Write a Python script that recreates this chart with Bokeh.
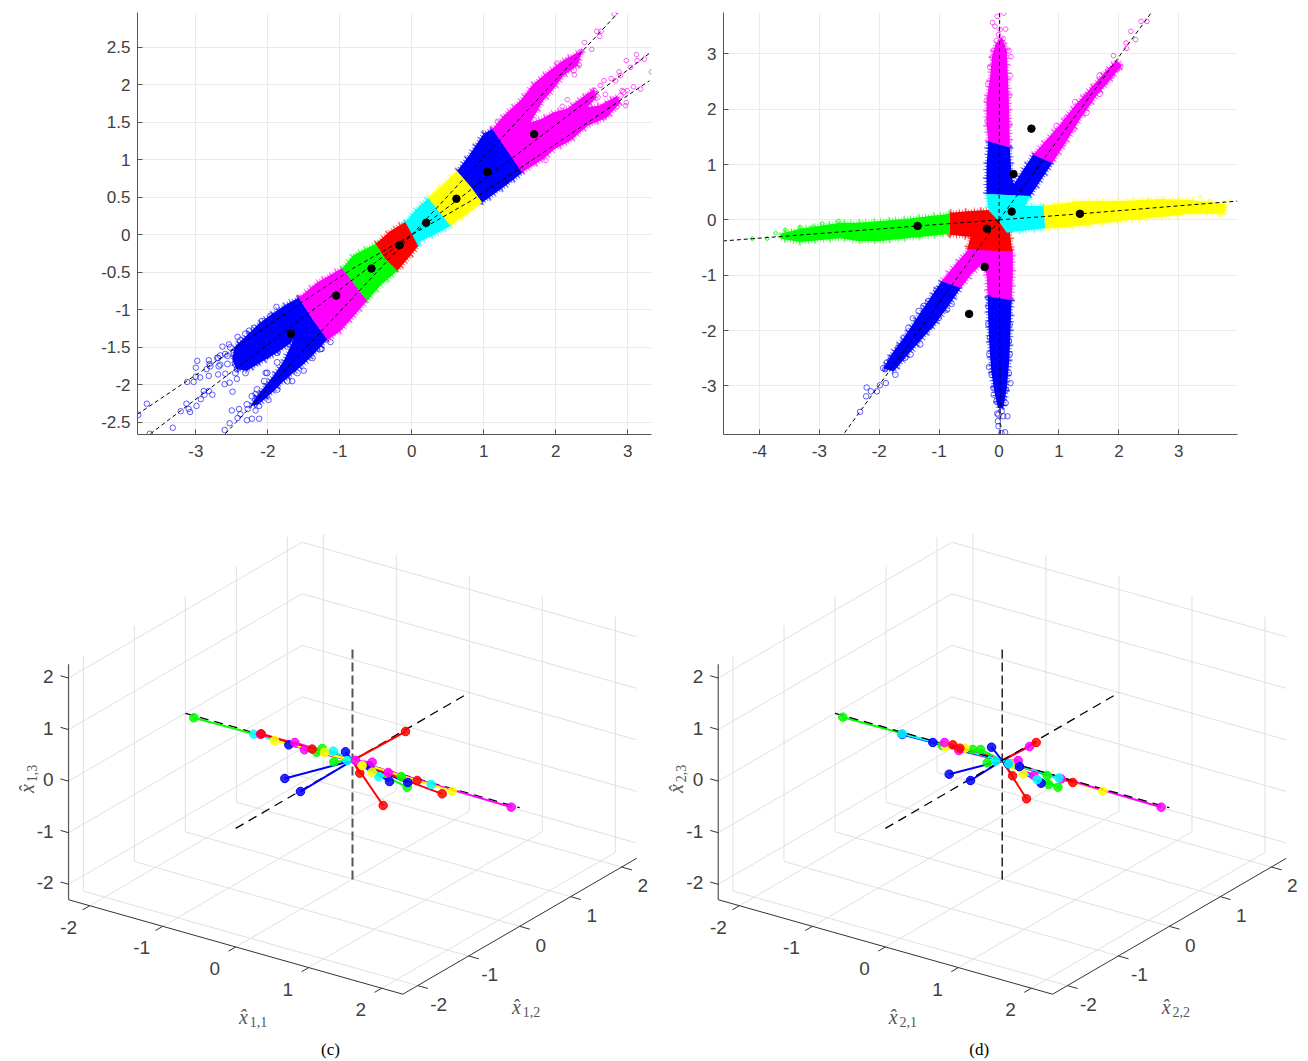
from bokeh.plotting import figure
from bokeh.layouts import column, row
from bokeh.models import FixedTicker, Label
from bokeh.core.properties import value
from bokeh.embed import file_html
from bokeh.resources import INLINE

BLUE, MAG, GREEN, RED, CYAN, YEL = "#0000ff", "#ff00ff", "#00ff00", "#ff0000", "#00ffff", "#ffff00"

# ---------- panel (a): outlines of the dense clouds, y_{1,1} / y_{1,2}
a_red = [(-.50,-.12),(-.30,.05),(-.09,.17),(.01,.03),(.09,-.15),(-.02,-.28),(-.20,-.48),(-.37,-.32)]
a_cyan = [(-.09,.17),(.07,.35),(.23,.49),(.38,.31),(.54,.12),(.33,.01),(.12,-.09),(.09,-.15)]
a_yellow = [(.23,.49),(.41,.65),(.63,.85),(.82,.64),(.98,.43),(.77,.28),(.54,.12),(.38,.31)]
a_blue_up = [(.63,.85),(.79,1.05),(1.0,1.35),(1.12,1.41),(1.33,1.12),(1.54,.83),(1.27,.63),(.98,.43),(.82,.64)]
a_mag_up = [(1.12,1.41),(1.28,1.59),(1.51,1.79),(1.69,2.01),(1.88,2.16),(2.07,2.30),(2.27,2.41),(2.37,2.45),
            (2.30,2.25),(2.11,2.12),(1.97,1.94),(1.83,1.79),(1.72,1.61),(1.65,1.50),(1.79,1.54),(1.97,1.63),
            (2.16,1.68),(2.34,1.81),(2.53,1.94),(2.57,1.83),(2.44,1.70),(2.62,1.72),(2.85,1.85),(2.90,1.76),
            (2.71,1.56),(2.44,1.45),(2.20,1.25),(1.98,1.14),(1.83,1.01),(1.53,.83)]
a_green = [(-.97,-.45),(-.81,-.27),(-.50,-.12),(-.37,-.32),(-.20,-.48),(-.44,-.68),(-.62,-.88),(-.78,-.68)]
a_mag_lo = [(-1.57,-.84),(-1.32,-.64),(-.96,-.44),(-.78,-.68),(-.62,-.88),(-.81,-1.09),(-.99,-1.28),(-1.17,-1.40),(-1.38,-1.12)]
a_blue_lo = [(-1.57,-.84),(-1.73,-.92),(-1.92,-1.04),(-2.13,-1.19),(-2.33,-1.37),(-2.47,-1.50),(-2.49,-1.68),
             (-2.43,-1.79),(-2.29,-1.81),(-2.10,-1.70),(-1.87,-1.57),(-1.68,-1.44),(-1.64,-1.39),(-1.78,-1.68),
             (-1.91,-1.86),(-2.06,-2.04),(-2.17,-2.17),(-2.24,-2.28),(-2.13,-2.26),(-1.96,-2.12),(-1.78,-1.95),
             (-1.50,-1.72),(-1.36,-1.59),(-1.17,-1.39),(-1.36,-1.15)]
# isolated samples of panel (a)
a_blue_pts = [(-3.80,-2.40),(-3.68,-2.25),(-3.64,-2.65),(-3.32,-2.57),(-3.21,-2.35),(-3.13,-2.25),(-3.10,-2.32),
              (-3.08,-2.36),(-2.99,-2.28),(-3.00,-1.77),(-2.98,-1.68),(-3.12,-1.96),(-3.03,-1.96),(-3.00,-1.89),
              (-2.94,-1.90),(-2.93,-2.19),(-2.89,-2.08),(-2.88,-2.13),(-2.82,-2.08),(-2.77,-2.13),(-2.82,-1.88),
              (-2.85,-1.79),(-2.82,-1.67),(-2.81,-1.72),(-2.69,-1.86),(-2.69,-1.64),(-2.66,-1.73),(-2.59,-1.85),
              (-2.60,-1.99),(-2.53,-1.97),(-2.49,-2.09),(-2.63,-1.49),(-2.54,-1.46),(-2.43,-1.92),(-2.43,-1.79),
              (-2.42,-1.36),(-2.50,-2.34),(-2.40,-2.32),(-2.38,-2.39),(-2.42,-2.44),(-2.53,-2.51),(-2.60,-2.60),
              (-2.29,-2.47),(-2.22,-2.45),(-2.12,-2.45),(-2.28,-2.32),(-2.17,-2.34),(-2.12,-2.28),(-2.17,-2.12),
              (-1.99,-2.20),(-1.66,-1.95),(-2.03,-1.84),(-1.50,-1.81),(-1.25,-1.52),(-1.13,-1.43),(-1.88,-.96)]
a_blue_fringe = [(-2.70,-1.64),(-2.59,-1.59),(-2.52,-1.50),(-2.47,-1.57),(-2.38,-1.41),(-2.31,-1.32),(-2.26,-1.28),
                 (-2.19,-1.24),(-2.08,-1.15),(-1.96,-1.08),(-2.45,-1.84),(-2.31,-1.84),(-2.15,-1.70),(-2.01,-1.61),
                 (-1.87,-1.57),(-2.29,-2.26),(-2.22,-2.15),(-2.15,-2.06),(-2.05,-1.95),(-2.01,-1.84),(-1.87,-1.70),
                 (-1.87,-2.06),(-1.73,-1.95),(-1.59,-1.84),(-1.38,-1.64),(-1.27,-1.52),(-2.56,-1.61),(-2.45,-1.64),
                 (-2.33,-1.64),(-2.29,-1.50),(-2.66,-1.61),(-2.80,-1.75),(-2.68,-1.75),(-2.56,-1.72),(-2.45,-1.72),
                 (-2.38,-1.70),(-2.17,-2.19),(-2.08,-2.12),(-1.99,-2.04)]
a_mag_pts = [(2.81,2.94),(2.57,2.71),(2.63,2.71),(2.61,2.64),(2.40,2.56),(2.50,2.47),(2.30,2.39),(2.33,2.26),
             (2.26,2.13),(2.16,1.80),(2.09,1.71),(3.12,2.40),(3.23,2.34),(3.13,2.32),(2.98,2.32),(3.33,2.17),
             (3.04,2.23),(2.88,2.17),(2.90,2.12),(2.67,2.05),(2.77,2.08),(2.83,2.05),(2.62,1.99),(2.92,1.92),
             (2.99,1.92),(3.18,1.94),(3.08,1.97),(2.69,1.87),(2.98,1.76),(2.97,1.72),(2.85,1.70),(2.76,1.68),
             (2.67,1.56),(1.86,.99),(1.19,1.51),(1.75,2.0)]
a_mag_fringe = [(2.20,2.25),(2.30,2.34),(2.34,2.43),(2.16,2.32),(2.25,2.19),(2.02,2.28),(2.53,1.92),(2.46,1.85),
                (2.39,1.79),(2.58,1.83),(2.64,1.70),(2.71,1.74),(2.83,1.79),(2.90,1.85),(2.94,1.90),(2.71,1.61),
                (2.62,1.61),(2.44,1.83),(2.30,1.74),(2.18,1.63)]
a_curves = [[(-2.59,-2.65),(0,0),(2.86,2.95)],
            [(-3.63,-2.65),(0,0),(3.32,2.43)],
            [(-3.81,-2.39),(-2.91,-1.81),(-1.51,-.89),(-.82,-.45),(0,0),(.82,.45),(1.51,.89),(3.30,2.05)]]
a_centres = [(1.70,1.34),(1.05,.84),(.62,.48),(.20,.16),(-1.05,-.81),(-.56,-.45),(-.17,-.14),(-1.68,-1.32)]
a_xticks = [-3,-2,-1,0,1,2,3]
a_yticks = [-2.5,-2,-1.5,-1,-.5,0,.5,1,1.5,2,2.5]

# ---------- panel (b): outlines of the dense clouds, y_{2,1} / y_{2,2}
b_mag_v = [(-.18,1.42),(-.21,1.73),(-.21,2.16),(-.15,2.58),(-.12,2.94),(-.06,3.18),(.05,3.30),(.13,3.06),(.14,2.76),(.16,2.28),(.17,1.85),(.18,1.31)]
b_blue_v = [(-.21,.47),(-.21,.95),(-.18,1.42),(.18,1.31),(.21,.77),(.25,.65),(.41,.92),(.57,1.18),(.89,1.03),(.71,.74),(.52,.43)]
b_mag_d = [(.57,1.18),(.80,1.46),(1.02,1.73),(1.29,2.10),(1.57,2.43),(1.79,2.70),(1.96,2.88),(2.05,2.79),(1.82,2.49),(1.63,2.25),(1.35,1.82),(1.13,1.43),(.89,1.03)]
b_cyan = [(-.21,.47),(.52,.43),(.44,.25),(.74,.25),(.77,-.15),(.13,-.23),(-.01,-.02),(-.18,.19)]
b_yellow = [(.73,.25),(1.35,.34),(2.02,.34),(2.68,.38),(3.18,.36),(3.77,.29),(3.77,.11),(3.18,.11),(2.68,.05),(2.02,-.02),(1.35,-.11),(.77,-.16)]
b_red = [(-.82,.13),(-.48,.16),(-.18,.18),(0,-.02),(.18,-.22),(.22,-.56),(0,-.56),(-.53,-.53),(-.48,-.31),(-.82,-.27)]
b_green = [(-.82,.11),(-1.15,.07),(-1.53,.02),(-1.98,-.02),(-2.37,-.05),(-2.65,-.05),(-3.32,-.16),(-3.65,-.25),
           (-3.65,-.34),(-3.32,-.40),(-2.65,-.33),(-2.37,-.38),(-1.98,-.38),(-1.53,-.33),(-1.15,-.29),(-.82,-.25)]
b_mag_lo = [(-.51,-.53),(-.73,-.80),(-.96,-1.11),(-.64,-1.23),(-.46,-.98),(-.29,-.80),(-.21,-.98),(-.19,-1.38),(.21,-1.45),(.23,-.98),(.23,-.55)]
b_blue_d = [(-.96,-1.11),(-1.15,-1.41),(-1.37,-1.77),(-1.59,-2.13),(-1.76,-2.37),(-1.93,-2.68),(-1.76,-2.74),(-1.54,-2.46),(-1.32,-2.19),(-1.07,-1.89),(-.85,-1.56),(-.64,-1.23)]
b_blue_lo = [(-.19,-1.38),(-.18,-1.83),(-.16,-2.31),(-.13,-2.74),(-.08,-3.10),(-.02,-3.40),(.07,-3.40),(.13,-3.04),(.17,-2.55),(.19,-2.01),(.21,-1.45)]
# isolated samples of panel (b)
b_blue_pts = [(-2.32,-3.47),(-2.21,-3.03),(-2.22,-3.19),(-2.14,-3.10),(-2.04,-3.10),(-1.99,-2.99),(-1.89,-2.95),
              (-1.73,-2.80),(-1.90,-2.70),(-1.82,-2.55),(-1.44,-1.78),(-.79,-1.52),(-.18,-1.41),(-.18,-1.56),
              (-.18,-1.88),(.18,-1.89),(-.17,-2.66),(.18,-2.43),(.19,-2.95),(.11,-3.31),(.14,-3.55),(-.03,-3.50),
              (-.02,-3.64),(-.01,-3.73),(.04,-3.85),(.10,-3.84),(-.09,-3.16),(.07,-3.55)]
b_blue_fringe = [(-1.93,-2.68),(-1.87,-2.58),(-1.79,-2.49),(-1.68,-2.31),(-1.59,-2.13),(-1.51,-1.95),(-1.34,-1.65),
                 (-1.26,-1.56),(-1.18,-1.47),(-1.04,-1.26),(-1.73,-2.58),(-1.57,-2.49),(-1.48,-2.43),(-1.32,-2.25),
                 (-1.15,-1.92),(-1.01,-1.77),(-.87,-1.62),(-.15,-2.13),(-.16,-2.43),(-.12,-2.80),(-.09,-3.04),
                 (.16,-2.19),(.16,-2.77),(.11,-3.07),(.07,-3.22),(-.04,-3.28),(.02,-3.28),(.04,-3.46),(-.01,-3.52)]
b_mag_pts = [(.08,3.74),(-.03,3.68),(-.11,3.57),(-.07,3.50),(.02,3.44),(.11,3.45),(-.01,3.35),(.07,3.28),(.20,2.95),
             (-.12,2.94),(2.47,3.59),(2.37,3.59),(2.20,3.41),(2.28,3.26),(2.12,3.20),(2.13,3.10),(1.91,2.97),
             (2.03,2.78),(1.97,2.72),(1.89,2.60),(1.88,2.73),(1.78,2.52)]
b_mag_fringe = [(-.09,3.06),(-.15,2.76),(-.18,2.46),(-.20,2.16),(-.19,1.79),(.16,3.06),(.18,2.61),(.17,2.25),(.17,1.73),
                (.02,3.21),(-.04,3.24),(.07,3.18),(1.68,2.61),(1.77,2.49),(1.82,2.70),(1.57,2.37),(1.46,2.25),(1.27,2.13),
                (1.13,1.85),(.96,1.70),(.88,1.43),(1.07,1.37),(1.24,1.64),(1.46,1.94),(1.68,2.28),(1.96,2.79),(1.85,2.61)]
b_green_pts = [(-4.12,-.34),(-3.87,-.34),(-3.73,-.24),(-3.57,-.18),(-3.32,-.13),(-3.12,-.13),(-2.95,-.07),(-2.68,-.02)]
b_yellow_pts = [(3.85,.34),(3.77,.22),(3.52,.34),(3.35,.42),(3.68,.07)]
b_curves = [[(0,0),(.01,3.75)],
            [(0,0),(2.53,3.73)],
            [(0,0),(1.35,.11),(3.98,.34)],
            [(0,0),(-1.36,-.11),(-4.6,-.38)],
            [(0,0),(-2.6,-3.88)],
            [(0,0),(.02,-3.88)]]
b_centres = [(.54,1.65),(.24,.83),(.21,.15),(1.35,.11),(-1.36,-.11),(-.20,-.16),(-.24,-.85),(-.50,-1.70)]
b_xticks = [-4,-3,-2,-1,0,1,2,3]
b_yticks = [-3,-2,-1,0,1,2,3]

# ---------- panels (c), (d): estimated 3-D points, each joined to the origin
c_green = [(-2.174,0,-.042),(-.256,0,-.128),(-.415,0,.066),(-.493,0,-.036),(.667,0,-.044),(.749,0,-.218)]
c_blue = [(-.872,0,-.045),(-.096,0,.13),(-.927,0,-.72),(0,-1.02,-.015),(.507,0,-.204),(.758,0,-.123),(.237,0,-.021)]
c_cyan = [(-1.352,0,-.03),(-.265,0,.075),(.361,0,-.166),(1.078,0,-.034),(-.07,0,-.03)]
c_magenta = [(-1.26,0,.006),(-.79,0,.033),(-.658,0,-.056),(.269,0,.075),(.489,0,-.037),(2.174,0,-.035),(.04,0,.02)]
c_red = [(-1.251,0,.017),(-.553,0,0),(0,1.04,-.036),(.10,0,-.206),(.42,0,-.705),(.886,0,-.033),(1.228,0,-.155)]
c_yellow = [(-1.068,0,-.04),(-.384,0,.002),(.269,0,-.118),(1.365,0,-.049),(.132,0,-.044)]

d_green = [(-2.183,0,-.033),(-.822,0,-.038),(-.402,0,.053),(-.297,0,.095),(-.205,0,-.127),(.616,0,-.044),(.639,0,-.21),(.763,0,-.212)]
d_blue = [(-1.37,0,-.044),(-.95,0,-.031),(-.146,0,.2),(-.726,0,-.556),(0,-.621,-.031),(.082,0,-.032),(.237,0,-.021),(.534,0,-.226)]
d_cyan = [(-1.37,0,-.031),(-.09,0,-.05),(.091,0,-.028),(.479,0,-.177),(.776,0,-.026)]
d_magenta = [(-.79,0,.033),(-.594,0,-.044),(0,.536,-.037),(.219,0,.088),(.808,0,-.032),(2.178,0,-.034),(.434,0,-.117)]
d_red = [(-.676,0,.033),(-.58,0,.007),(0,.667,-.034),(.142,0,-.241),(.333,0,-.61),(.968,0,-.039)]
d_yellow = [(-.776,0,-.039),(-.511,0,.035),(.288,0,-.143),(1.379,0,-.043),(.137,0,-.023)]
ticks3d = [-2,-1,0,1,2]

SANS, SERIF = "Liberation Sans", "Liberation Serif"
TXT = "#404040"
GRID = "#ebebeb"
GRID3 = "#e0e0e0"


def xy(pts):
    return [q[0] for q in pts], [q[1] for q in pts]


def label(p, x, y, text, size, font=SERIF, style="normal", color=TXT, angle=0, align="center"):
    p.add_layout(Label(x=x, y=y, text=text, text_font=font, text_font_size=f"{size}px", text_font_style=style,
                       text_color=color, angle=angle, angle_units="deg", text_align=align, text_baseline="middle"))


def panel2d(width, left, right, xr, yr, xticks, yticks, yfmt):
    p = figure(width=width, height=530, frame_width=514, frame_height=422, x_range=xr, y_range=yr,
               output_backend="svg", toolbar_location=None, min_border_left=left, min_border_right=right,
               min_border_top=12, min_border_bottom=96)
    p.outline_line_color = None
    p.xaxis.ticker = FixedTicker(ticks=xticks)
    p.yaxis.ticker = FixedTicker(ticks=yticks)
    p.xaxis.major_label_overrides = {t: str(t) for t in xticks}
    p.yaxis.major_label_overrides = {t: yfmt(t) for t in yticks}
    for ax in (p.xaxis, p.yaxis):
        ax.axis_line_color = "#555555"
        ax.major_tick_line_color = "#555555"
        ax.major_tick_in = 5
        ax.major_tick_out = 0
        ax.minor_tick_line_color = None
        ax.major_label_text_font = SANS
        ax.major_label_text_font_size = "17px"
        ax.major_label_text_color = TXT
    p.xaxis.major_label_standoff = 10
    p.yaxis.major_label_standoff = 7
    p.grid.grid_line_color = GRID
    return p


def clouds(p, polys):
    for pts, col in polys:
        xs, ys = xy(pts)
        p.patch(xs, ys, fill_alpha=0, line_color=col, line_width=7, line_dash="2 7 1 5", line_alpha=.45)
        p.patch(xs, ys, fill_alpha=0, line_color=col, line_width=4, line_dash="1 2", line_alpha=.6)
    for pts, col in polys:
        xs, ys = xy(pts)
        p.patch(xs, ys, fill_color=col, line_color=None)


def samples(p, pts, marker, col, size):
    xs, ys = xy(pts)
    p.scatter(xs, ys, marker=marker, size=size, fill_alpha=0, line_color=col, line_width=.8, line_alpha=.8)


def finish2d(p, curves, centres):
    for c in curves:
        xs, ys = xy(c)
        p.line(xs, ys, line_color="black", line_width=1, line_dash="4 3")
    xs, ys = xy(centres)
    p.scatter(xs, ys, size=7.5, color="black")


# panel a
pa = panel2d(660, 137, 9, (-3.81, 3.33), (-2.66, 2.96), a_xticks, a_yticks, str)
samples(pa, a_blue_fringe, "circle", BLUE, 6)
samples(pa, a_mag_fringe, "hex", MAG, 6)
clouds(pa, [(a_blue_lo, BLUE), (a_mag_lo, MAG), (a_green, GREEN), (a_red, RED), (a_cyan, CYAN), (a_yellow, YEL),
            (a_blue_up, BLUE), (a_mag_up, MAG)])
samples(pa, a_blue_pts, "circle", BLUE, 5.5)
samples(pa, a_mag_pts, "hex", MAG, 5)
finish2d(pa, a_curves, a_centres)
ax_px = lambda px: (px - 411.3) / 72
ay_px = lambda py: (234 - py) / 75
label(pa, ax_px(383.5), ay_px(476), "y", 18, style="italic")
label(pa, ax_px(397.5), ay_px(479.5), "1,1", 13)
label(pa, ax_px(88), ay_px(232), "y", 18, style="italic", angle=90)
label(pa, ax_px(91), ay_px(218.5), "1,2", 13, angle=90)
label(pa, ax_px(361), ay_px(508), "(a)", 17, color="black")

# panel b
pb = panel2d(640, 63, 63, (-4.6, 3.98), (-3.88, 3.75), b_xticks, b_yticks, str)
samples(pb, b_blue_fringe, "circle", BLUE, 6)
samples(pb, b_mag_fringe, "hex", MAG, 6)
clouds(pb, [(b_green, GREEN), (b_yellow, YEL), (b_mag_lo, MAG), (b_blue_d, BLUE), (b_blue_lo, BLUE), (b_mag_v, MAG),
            (b_mag_d, MAG), (b_blue_v, BLUE), (b_red, RED), (b_cyan, CYAN)])
samples(pb, b_blue_pts, "circle", BLUE, 5.5)
samples(pb, b_mag_pts, "hex", MAG, 5)
samples(pb, b_green_pts, "plus", GREEN, 4)
samples(pb, b_yellow_pts, "inverted_triangle", YEL, 4)
finish2d(pb, b_curves, b_centres)
bx_px = lambda px: (px - 999) / 60
by_px = lambda py: (219 - py) / 55.2
label(pb, bx_px(970.5), by_px(476), "y", 18, style="italic")
label(pb, bx_px(984.5), by_px(479.5), "2,1", 13)
label(pb, bx_px(673), by_px(232), "y", 18, style="italic", angle=90)
label(pb, bx_px(676), by_px(218.5), "2,2", 13, angle=90)
label(pb, bx_px(948), by_px(508), "(b)", 17, color="black")

# 3-D panels
LIM, ZLO, ZHI = 2.29, -2.3, 2.27


def proj(x, y, z):
    return 73 * x + 51 * y, -(20.63 * x - 29.65 * y - 51.55 * z)


def seg3(p, a, b, **kw):
    pa_, pb_ = proj(*a), proj(*b)
    p.line([pa_[0], pb_[0]], [pa_[1], pb_[1]], **kw)


def panel3d(left, width, ox, series, idx, dash_on_top, zdash):
    p = figure(width=width, height=530, frame_width=width, frame_height=530,
               x_range=(left - ox, left + width - ox),
               y_range=(-300, 230), output_backend="svg", toolbar_location=None,
               x_axis_type=None, y_axis_type=None, min_border=0)
    p.outline_line_color = None
    p.grid.visible = False
    gl = dict(line_color=GRID3, line_width=1)
    for t in ticks3d:
        seg3(p, (t, -LIM, ZLO), (t, LIM, ZLO), **gl)
        seg3(p, (-LIM, t, ZLO), (LIM, t, ZLO), **gl)
        seg3(p, (t, LIM, ZLO), (t, LIM, ZHI), **gl)
        seg3(p, (-LIM, t, ZLO), (-LIM, t, ZHI), **gl)
        seg3(p, (-LIM, LIM, t), (LIM, LIM, t), **gl)
        seg3(p, (-LIM, -LIM, t), (-LIM, LIM, t), **gl)
    ax = dict(line_color="#333333", line_width=1)
    seg3(p, (-LIM, -LIM, ZLO), (LIM, -LIM, ZLO), **ax)
    seg3(p, (LIM, -LIM, ZLO), (LIM, LIM, ZLO), **ax)
    seg3(p, (-LIM, -LIM, ZLO), (-LIM, -LIM, ZHI), line_color="#555555", line_width=1.2)
    for t in ticks3d:
        seg3(p, (t, -LIM, ZLO), (t, -LIM - .14, ZLO), **ax)
        seg3(p, (LIM, t, ZLO), (LIM + .14, t, ZLO), **ax)
        seg3(p, (-LIM, -LIM, t), (-LIM - .11, -LIM, t), **ax)
        a = proj(t, -LIM, ZLO)
        p.text([a[0] - 21], [a[1] - 21.5], [str(t)], text_font=value(SANS), text_font_size="19px", text_color=TXT,
               text_align="center", text_baseline="middle")
        a = proj(LIM, t, ZLO)
        p.text([a[0] + 21], [a[1] - 18.7], [str(t)], text_font=value(SANS), text_font_size="19px", text_color=TXT,
               text_align="center", text_baseline="middle")
        a = proj(-LIM, -LIM, t)
        p.text([a[0] - 15], [a[1] + 1.5], [str(t)], text_font=value(SANS), text_font_size="19px", text_color=TXT,
               text_align="right", text_baseline="middle")

    def dashes():
        dk = dict(line_color="black", line_width=1.3, line_dash="9 6")
        seg3(p, (-LIM, 0, 0), (LIM, 0, 0), **dk)
        seg3(p, (0, -LIM, 0), (0, LIM, 0), **dk)
        seg3(p, (0, 0, -2.31), (0, 0, 2.17), line_dash="9 4", **zdash)

    if not dash_on_top:
        dashes()
    for pts, col in series:
        for q in pts:
            e = proj(*q)
            p.line([0, e[0]], [0, e[1]], line_color=col, line_width=2)
    if dash_on_top:
        dashes()
    for pts, col in series:
        es = [proj(*q) for q in pts]
        p.scatter([e[0] for e in es], [e[1] for e in es], size=8.5, fill_color=col, line_color=col, fill_alpha=.85)
    tx = lambda px: px - ox
    ty = lambda py: 760 - py
    shift = 0 if idx == 1 else 649.7
    label(p, tx(243 + shift), ty(1016), "x\u0302", 20, style="italic", color="#555555")
    label(p, tx(258 + shift), ty(1021), f"{idx},1", 14, color="#555555")
    label(p, tx(516 + shift), ty(1006), "x\u0302", 20, style="italic", color="#555555")
    label(p, tx(531 + shift), ty(1011), f"{idx},2", 14, color="#555555")
    label(p, tx(26 + shift), ty(788), "x\u0302", 20, style="italic", color="#555555", angle=90)
    label(p, tx(31 + shift), ty(773), f"{idx},3", 14, color="#555555", angle=90)
    label(p, tx(330 + shift - (1 if idx == 2 else 0)), ty(1049), "(c)" if idx == 1 else "(d)", 17, color="black")
    return p


pc = panel3d(0, 660, 352, [(c_green, GREEN), (c_blue, BLUE), (c_cyan, CYAN), (c_magenta, MAG), (c_red, RED), (c_yellow, YEL)],
             1, False, dict(line_color="#555555", line_width=2))
pd = panel3d(660, 640, 1001.7, [(d_green, GREEN), (d_yellow, YEL), (d_magenta, MAG), (d_red, RED), (d_blue, BLUE), (d_cyan, CYAN)],
             2, True, dict(line_color="black", line_width=1.3))

layout = column(row(pa, pb, spacing=0), row(pc, pd, spacing=0), spacing=0)
open("out.html", "w").write(file_html(layout, INLINE))
